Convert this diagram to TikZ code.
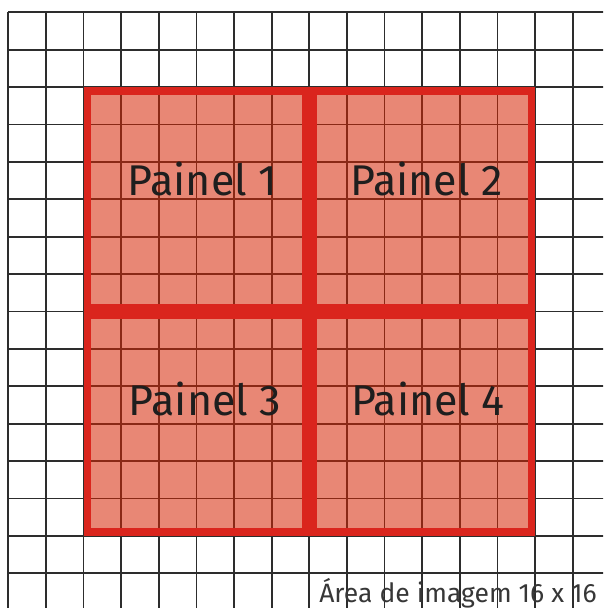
\documentclass[tikz,border=0pt]{standalone}
\usepackage{fontspec}
\setmainfont{Fira Sans}
\definecolor{panelred}{RGB}{218,37,29}
\definecolor{panelbase}{RGB}{214,38,4}
\definecolor{gridline}{RGB}{45,45,45}
\definecolor{labeltext}{RGB}{30,30,30}
\definecolor{captiontext}{RGB}{55,55,55}
\tikzset{
  gridstroke/.style={draw=gridline, line width=1.7pt},
  panelfill/.style={fill=panelbase, fill opacity=0.55},
  panelborder/.style={draw=panelred, line width=7.6pt},
  panellabel/.style={text=labeltext, font=\fontsize{43}{48}\selectfont, anchor=base, inner sep=0pt},
  caption/.style={text=captiontext, font=\fontsize{26.5}{31}\selectfont, anchor=base east, inner sep=0pt}
}
\begin{document}
\begin{tikzpicture}[x=1pt,y=-1pt]
\useasboundingbox (0,0) rectangle (603,608);
\fill[white] (0,0) rectangle (603,608);
\begin{scope}
\clip (0,0) rectangle (603,608);
% grid
\foreach \k in {0,...,16} {
  \draw[gridstroke] ({8.3+37.63*\k},12.3) -- ({8.3+37.63*\k},620);
  \draw[gridstroke] (8.3,{12.3+37.4*\k}) -- (620,{12.3+37.4*\k});
}
\end{scope}
% panels: (x1,y1,x2,y2)
\foreach \xa/\ya/\xb/\yb in {83.6/87.1/309.3/311.5, 309.3/87.1/535.1/311.5, 83.6/311.5/309.3/535.9, 309.3/311.5/535.1/535.9} {
  \fill[panelfill] (\xa,\ya) rectangle (\xb,\yb);
  \draw[panelborder] ({\xa+3.8},{\ya+3.8}) rectangle ({\xb-3.8},{\yb-3.8});
}
\node[panellabel] (p1) at (202.5,195) {Painel 1};
\node[panellabel] (p2) at (426.5,195) {Painel 2};
\node[panellabel] (p3) at (205,415) {Painel 3};
\node[panellabel] (p4) at (428,415) {Painel 4};
\node[caption] (cap) at (597,602) {Área de imagem 16 x 16};
\end{tikzpicture}
\end{document}
